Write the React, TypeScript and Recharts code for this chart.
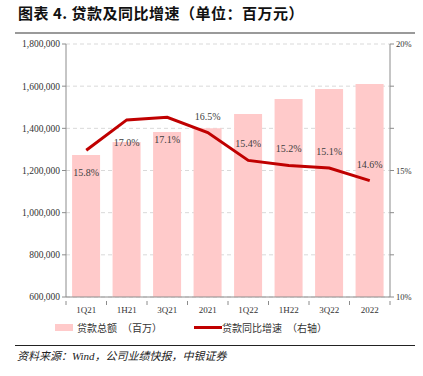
import { Bar, CartesianGrid, ComposedChart, LabelList, Line, XAxis, YAxis } from "recharts";

const quarters = ["1Q21", "1H21", "3Q21", "2021", "1Q22", "1H22", "3Q22", "2022"];
const loanTotal = [1273000, 1335000, 1383000, 1400000, 1468000, 1539000, 1586000, 1610000];
const loanGrowth = [15.8, 17.0, 17.1, 16.5, 15.4, 15.2, 15.1, 14.6];
const leftTicks = [600000, 800000, 1000000, 1200000, 1400000, 1600000, 1800000];
const rightTicks = [10, 11.667, 13.333, 15, 16.667, 18.333, 20];

const data = quarters.map((q, i) => ({ q, total: loanTotal[i], growth: loanGrowth[i] }));

const serif = "'Liberation Serif', 'Times New Roman', serif";
const cjk = "'Noto Sans CJK SC', sans-serif";
const axisGray = "#8c8c8c";

function XTick(props: any) {
  const { x, y, payload } = props;
  const band = 324 / quarters.length;
  return (
    <g>
      <line x1={x - band / 2} x2={x - band / 2} y1={y - 4} y2={y} stroke={axisGray} />
      {payload.index === quarters.length - 1 && (
        <line x1={x + band / 2} x2={x + band / 2} y1={y - 4} y2={y} stroke={axisGray} />
      )}
      <text x={x} y={y + 8} textAnchor="middle" fontSize={9} fontFamily={serif} fill="#333">
        {payload.value}
      </text>
    </g>
  );
}

function GrowthLabel(props: any) {
  const { x, y, value, index } = props;
  const below = index < 3;
  return (
    <text
      x={x}
      y={below ? y + 26 : y - 13}
      textAnchor="middle"
      fontSize={10}
      fontFamily={serif}
      fill="#404040"
    >
      {Number(value).toFixed(1)}%
    </text>
  );
}

export default function App() {
  return (
    <div style={{ position: "absolute", left: 0, top: 0, width: 423, height: 376, background: "#fff" }}>
      <div
        style={{
          position: "absolute",
          left: 18,
          top: 2,
          fontFamily: cjk,
          fontWeight: 700,
          fontSize: 15,
          color: "#111",
          letterSpacing: 0.5,
          whiteSpace: "nowrap",
        }}
      >
        图表 4. 贷款及同比增速（单位：百万元）
      </div>
      <div style={{ position: "absolute", left: 15, top: 32, width: 400, height: 2, background: "#9a9a9a" }} />

      <div style={{ position: "absolute", left: 0, top: 0 }}>
        <ComposedChart
          width={423}
          height={320}
          data={data}
          margin={{ top: 44, right: 0, bottom: 3, left: 0 }}
          barCategoryGap="15%"
        >
          <CartesianGrid yAxisId="left" vertical={false} stroke="#d9d9d9" strokeDasharray="4 3" />
          <XAxis
            dataKey="q"
            stroke={axisGray}
            tickLine={false}
            tick={<XTick />}
            height={20}
            interval={0}
          />
          <YAxis
            yAxisId="left"
            domain={[600000, 1800000]}
            ticks={leftTicks}
            width={66}
            stroke={axisGray}
            tickSize={4}
            tickFormatter={(v: number) => v.toLocaleString("en-US")}
            tick={{ fontSize: 9.5, fontFamily: serif, fill: "#333" }}
          />
          <YAxis
            yAxisId="right"
            orientation="right"
            domain={[10, 20]}
            ticks={rightTicks}
            width={33}
            stroke={axisGray}
            tickSize={4}
            interval={0}
            tickFormatter={(v: number) => (Math.abs(v % 5) < 0.01 ? `${v}%` : "")}
            tick={{ fontSize: 8.5, fontFamily: serif, fill: "#333" }}
          />
          <Bar yAxisId="left" dataKey="total" fill="#ffcaca" isAnimationActive={false} />
          <Line
            yAxisId="right"
            dataKey="growth"
            stroke="#c00000"
            strokeWidth={3}
            dot={false}
            isAnimationActive={false}
          >
            <LabelList dataKey="growth" content={<GrowthLabel />} />
          </Line>
        </ComposedChart>
      </div>

      <div
        style={{
          position: "absolute",
          left: 55,
          top: 320,
          display: "flex",
          alignItems: "center",
          fontFamily: cjk,
          fontSize: 10,
          color: "#333",
          whiteSpace: "nowrap",
        }}
      >
        <span style={{ display: "inline-block", width: 18, height: 7, background: "#ffcaca", marginRight: 4 }} />
        <span>贷款总额　（百万）</span>
        <span
          style={{ display: "inline-block", width: 28, height: 3, background: "#c00000", marginLeft: 32 }}
        />
        <span>贷款同比增速　（右轴）</span>
      </div>

      <div style={{ position: "absolute", left: 15, top: 345, width: 400, height: 1, background: "#222" }} />
      <div
        style={{
          position: "absolute",
          left: 17,
          top: 347,
          fontFamily: cjk,
          fontStyle: "italic",
          fontSize: 11,
          color: "#222",
          whiteSpace: "nowrap",
        }}
      >
        资料来源：<span style={{ fontFamily: serif }}>Wind</span>，公司业绩快报，中银证券
      </div>
    </div>
  );
}
